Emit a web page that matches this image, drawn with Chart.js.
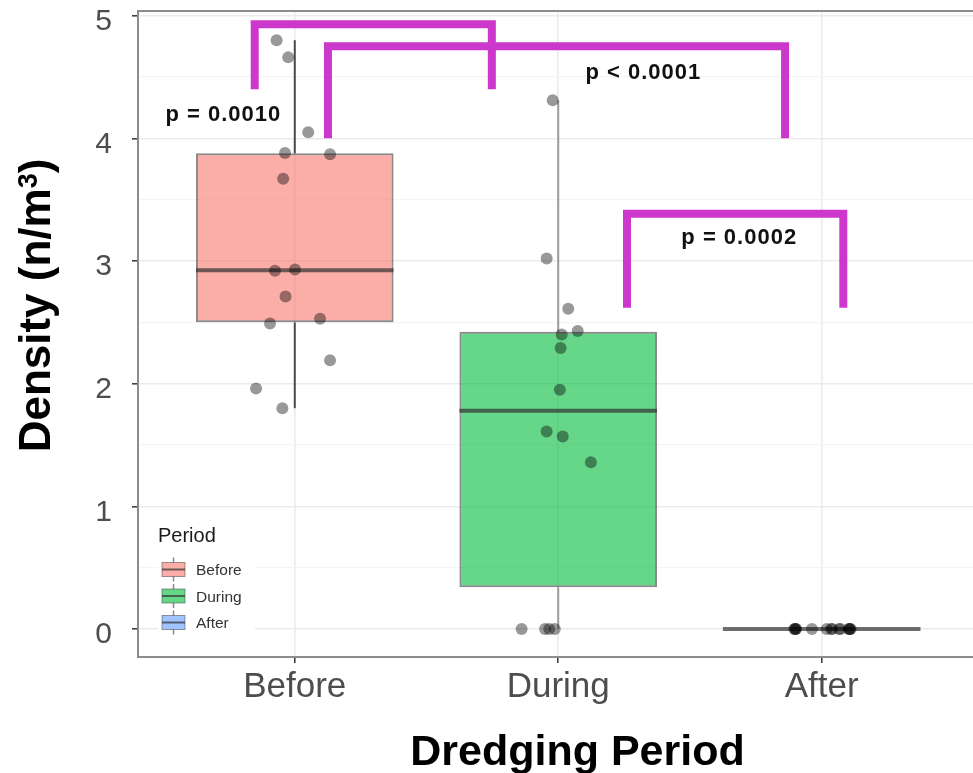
<!DOCTYPE html>
<html>
<head>
<meta charset="utf-8">
<script src="https://cdn.jsdelivr.net/npm/chart.js@4.4.1/dist/chart.umd.min.js"></script>
<style>
  html, body { margin: 0; padding: 0; background: #ffffff; overflow: hidden; }
  canvas { display: block; }
</style>
</head>
<body>
<canvas id="chart" width="1000" height="773" style="width:1000px;height:773px"></canvas>
<script>
// ---- data -------------------------------------------------------------
const categories = ['Before', 'During', 'After'];

// density (n/m³) of each sample, with its horizontal jitter (in category units)
const beforeDensity = [4.80, 4.66, 4.05, 3.88, 3.87, 3.67, 2.92, 2.93, 2.71, 2.49, 2.53, 2.19, 1.96, 1.80];
const beforeJitter  = [-0.069, -0.025, 0.051, -0.037, 0.134, -0.044, -0.075, 0.001, -0.035, -0.094, 0.096, 0.134, -0.147, -0.047];

const duringDensity = [4.31, 3.02, 2.61, 2.43, 2.40, 2.29, 1.95, 1.61, 1.57, 1.36, 0, 0, 0, 0];
const duringJitter  = [-0.021, -0.044, 0.038, 0.074, 0.013, 0.009, 0.006, -0.044, 0.017, 0.124, -0.139, -0.050, -0.034, -0.013];

const afterDensity  = [0, 0, 0, 0, 0, 0, 0, 0, 0, 0, 0, 0, 0, 0];
const afterJitter   = [-0.104, -0.101, -0.099, -0.097, -0.037, 0.019, 0.036, 0.040, 0.066, 0.071, 0.103, 0.105, 0.107, 0.110];

const yTicks      = [0, 1, 2, 3, 4, 5];
const yMinorTicks = [0.5, 1.5, 2.5, 3.5, 4.5];

const pLabels = ['p = 0.0010', 'p < 0.0001', 'p = 0.0002'];

const legendTitle = 'Period';
const xTitle = 'Dredging Period';
const yTitleParts = ['Density (n/m', '3', ')'];

// ---- styling / layout -------------------------------------------------
const groups = [
  { values: beforeDensity, jitter: beforeJitter },
  { values: duringDensity, jitter: duringJitter },
  { values: afterDensity,  jitter: afterJitter  }
];
const fillColors    = ['rgba(248,118,109,0.6)', 'rgba(0,186,56,0.6)', 'rgba(97,156,255,0.6)'];
const whiskerColors = ['rgba(45,45,45,0.85)', 'rgba(110,110,110,0.65)', 'rgba(45,45,45,0.85)'];
const boxHalf = 0.375;
const bracketColor = '#cc38cc';

// bracket geometry in data units: legs at x0/x1, bar at "top", feet at "foot"
const bracketLayout = [
  { x0: 0.848, x1: 1.748, top: 4.93,  foot: 4.40, labelX: 0.729, labelY: 4.14 },
  { x0: 1.126, x1: 2.861, top: 4.75,  foot: 4.00, labelX: 2.323, labelY: 4.48 },
  { x0: 2.261, x1: 3.082, top: 3.385, foot: 2.62, labelX: 2.687, labelY: 3.14 }
];

const FONT = "'Liberation Sans', Arial, Helvetica, sans-serif";
Chart.defaults.font.family = FONT;

// ---- box statistics (type-7 quantiles, 1.5·IQR whiskers) --------------
function quantile(sorted, p) {
  const h = (sorted.length - 1) * p;
  const lo = Math.floor(h);
  const hi = Math.min(lo + 1, sorted.length - 1);
  return sorted[lo] + (h - lo) * (sorted[hi] - sorted[lo]);
}
function boxStats(values) {
  const s = [...values].sort((a, b) => a - b);
  const q1 = quantile(s, 0.25), med = quantile(s, 0.5), q3 = quantile(s, 0.75);
  const iqr = q3 - q1;
  const lo = Math.min(...s.filter(v => v >= q1 - 1.5 * iqr));
  const hi = Math.max(...s.filter(v => v <= q3 + 1.5 * iqr));
  return { q1, med, q3, lo, hi };
}
const stats = groups.map(g => boxStats(g.values));

// ---- datasets ----------------------------------------------------------
const datasets = [];

// boxes (floating bars from Q1 to Q3)
datasets.push({
  type: 'bar',
  data: stats.map((s, i) => ({ x: i + 1, y: [s.q1, s.q3] })),
  backgroundColor: fillColors,
  borderColor: 'rgba(60,60,60,0.6)',
  borderWidth: 2,
  borderSkipped: false,
  categoryPercentage: 1,
  barPercentage: boxHalf * 2,
  grouped: false,
  order: 5
});

// whiskers
stats.forEach((s, i) => {
  const c = i + 1;
  [[s.lo, s.q1], [s.q3, s.hi]].forEach(([a, b]) => {
    if (b - a <= 0) return;
    datasets.push({
      type: 'line',
      data: [{ x: c, y: a }, { x: c, y: b }],
      borderColor: whiskerColors[i],
      borderWidth: 2,
      pointRadius: 0,
      tension: 0,
      order: 4
    });
  });
});

// medians
stats.forEach((s, i) => {
  const c = i + 1;
  datasets.push({
    type: 'line',
    data: [{ x: c - boxHalf, y: s.med }, { x: c + boxHalf, y: s.med }],
    borderColor: 'rgba(50,50,50,0.7)',
    borderWidth: 4,
    borderCapStyle: 'butt',
    pointRadius: 0,
    tension: 0,
    order: 3
  });
});

// jittered samples
groups.forEach((g, i) => {
  datasets.push({
    type: 'scatter',
    data: g.values.map((v, k) => ({ x: i + 1 + g.jitter[k], y: v })),
    backgroundColor: 'rgba(0,0,0,0.4)',
    borderWidth: 0,
    pointRadius: 6,
    pointHoverRadius: 6,
    order: 2
  });
});

// significance brackets
bracketLayout.forEach(b => {
  datasets.push({
    type: 'line',
    data: [
      { x: b.x0, y: b.foot }, { x: b.x0, y: b.top },
      { x: b.x1, y: b.top },  { x: b.x1, y: b.foot }
    ],
    borderColor: bracketColor,
    borderWidth: 8,
    borderCapStyle: 'butt',
    borderJoinStyle: 'miter',
    pointRadius: 0,
    tension: 0,
    order: 0
  });
});

// ---- decorations: panel frame, legend, p-values, axis titles ----------
const decor = {
  id: 'decor',
  beforeDatasetsDraw(chart) {
    const { ctx, chartArea: a } = chart;
    // legend backdrop
    ctx.save();
    ctx.fillStyle = '#ffffff';
    ctx.fillRect(a.left + 20, 512, 97, 136);
    ctx.restore();
  },
  afterDatasetsDraw(chart) {
    const { ctx, scales: { x, y } } = chart;
    ctx.save();
    ctx.font = `bold 22px ${FONT}`;
    ctx.fillStyle = '#111111';
    ctx.textAlign = 'center';
    ctx.textBaseline = 'alphabetic';
    try { ctx.letterSpacing = '1px'; } catch (e) {}
    pLabels.forEach((t, i) => {
      const b = bracketLayout[i];
      ctx.fillText(t, x.getPixelForValue(b.labelX), y.getPixelForValue(b.labelY));
    });
    ctx.restore();
  },
  afterDraw(chart) {
    const { ctx, chartArea: a } = chart;
    ctx.save();
    // top frame of the panel
    ctx.strokeStyle = '#8c8c8c';
    ctx.lineWidth = 2;
    ctx.beginPath();
    ctx.moveTo(a.left, a.top);
    ctx.lineTo(a.right, a.top);
    ctx.stroke();

    // legend
    const lx = a.left + 20;
    ctx.fillStyle = '#1a1a1a';
    ctx.font = `20px ${FONT}`;
    ctx.textAlign = 'left';
    ctx.textBaseline = 'alphabetic';
    ctx.fillText(legendTitle, lx, 542);
    categories.forEach((cat, i) => {
      const cy = 569.5 + i * 26.5;
      const kx = lx + 4, kw = 23, kc = kx + kw / 2;
      ctx.strokeStyle = 'rgba(60,60,60,0.6)';
      ctx.lineWidth = 1.5;
      ctx.beginPath(); ctx.moveTo(kc, cy - 12); ctx.lineTo(kc, cy + 12); ctx.stroke();
      ctx.fillStyle = '#ffffff';
      ctx.fillRect(kx, cy - 7, kw, 14);
      ctx.fillStyle = fillColors[i];
      ctx.fillRect(kx, cy - 7, kw, 14);
      ctx.strokeStyle = 'rgba(60,60,60,0.5)';
      ctx.lineWidth = 1;
      ctx.strokeRect(kx, cy - 7, kw, 14);
      ctx.strokeStyle = 'rgba(50,50,50,0.7)';
      ctx.lineWidth = 2;
      ctx.beginPath(); ctx.moveTo(kx, cy); ctx.lineTo(kx + kw, cy); ctx.stroke();
      ctx.fillStyle = '#333333';
      ctx.font = `15.5px ${FONT}`;
      ctx.fillText(cat, lx + 38, cy + 5.5);
    });

    // x axis title
    ctx.fillStyle = '#000000';
    ctx.font = `bold 43px ${FONT}`;
    ctx.textAlign = 'center';
    ctx.fillText(xTitle, 577.5, 765);

    // y axis title with superscript
    ctx.translate(50, 305.5);
    ctx.rotate(-Math.PI / 2);
    ctx.textAlign = 'left';
    const mainFont = `bold 44px ${FONT}`, supFont = `bold 27px ${FONT}`;
    ctx.font = mainFont; const w1 = ctx.measureText(yTitleParts[0]).width;
    const w3 = ctx.measureText(yTitleParts[2]).width;
    ctx.font = supFont; const w2 = ctx.measureText(yTitleParts[1]).width;
    const sx = -(w1 + w2 + w3) / 2;
    ctx.font = mainFont; ctx.fillText(yTitleParts[0], sx, 0);
    ctx.font = supFont; ctx.fillText(yTitleParts[1], sx + w1, -13);
    ctx.font = mainFont; ctx.fillText(yTitleParts[2], sx + w1 + w2, 0);
    ctx.restore();
  }
};

// ---- chart -------------------------------------------------------------
const isMajor = v => Number.isInteger(Math.round(v * 1000) / 1000);

new Chart(document.getElementById('chart'), {
  type: 'bar',
  data: { datasets },
  plugins: [decor],
  options: {
    responsive: false,
    devicePixelRatio: 1,
    animation: false,
    events: [],
    layout: { padding: { top: 11, right: 0, bottom: 0, left: 0 } },
    plugins: { legend: { display: false }, tooltip: { enabled: false } },
    scales: {
      x: {
        type: 'linear',
        min: 0.405,
        max: 3.654,
        offset: false,
        grid: {
          offset: false,
          color: '#ebebeb',
          lineWidth: 1.6,
          tickColor: '#333333',
          tickWidth: 1.5,
          tickLength: 6
        },
        border: { display: true, color: '#8c8c8c', width: 2 },
        afterBuildTicks: s => { s.ticks = categories.map((_, i) => ({ value: i + 1 })); },
        afterFit: s => { s.height = 116; s.paddingLeft = 0; s.paddingRight = 0; },
        ticks: {
          autoSkip: false,
          maxRotation: 0,
          padding: 3,
          color: '#4d4d4d',
          font: { size: 35 },
          callback: v => categories[Math.round(v) - 1] ?? ''
        }
      },
      y: {
        type: 'linear',
        min: -0.228,
        max: 5.038,
        grid: {
          color: c => isMajor(c.tick.value) ? '#ebebeb' : '#f4f4f4',
          lineWidth: c => isMajor(c.tick.value) ? 1.6 : 1.2,
          tickColor: c => isMajor(c.tick.value) ? '#333333' : 'rgba(0,0,0,0)',
          tickWidth: 1.5,
          tickLength: 6
        },
        border: { display: true, color: '#8c8c8c', width: 2 },
        afterBuildTicks: s => {
          s.ticks = [...yTicks, ...yMinorTicks].sort((a, b) => a - b).map(v => ({ value: v }));
        },
        afterFit: s => { s.width = 138; s.paddingTop = 0; s.paddingBottom = 0; },
        ticks: {
          padding: 20,
          labelOffset: 6,
          color: '#4d4d4d',
          font: { size: 30 },
          callback: v => yTicks.includes(v) ? String(v) : ''
        }
      }
    }
  }
});
</script>
</body>
</html>
